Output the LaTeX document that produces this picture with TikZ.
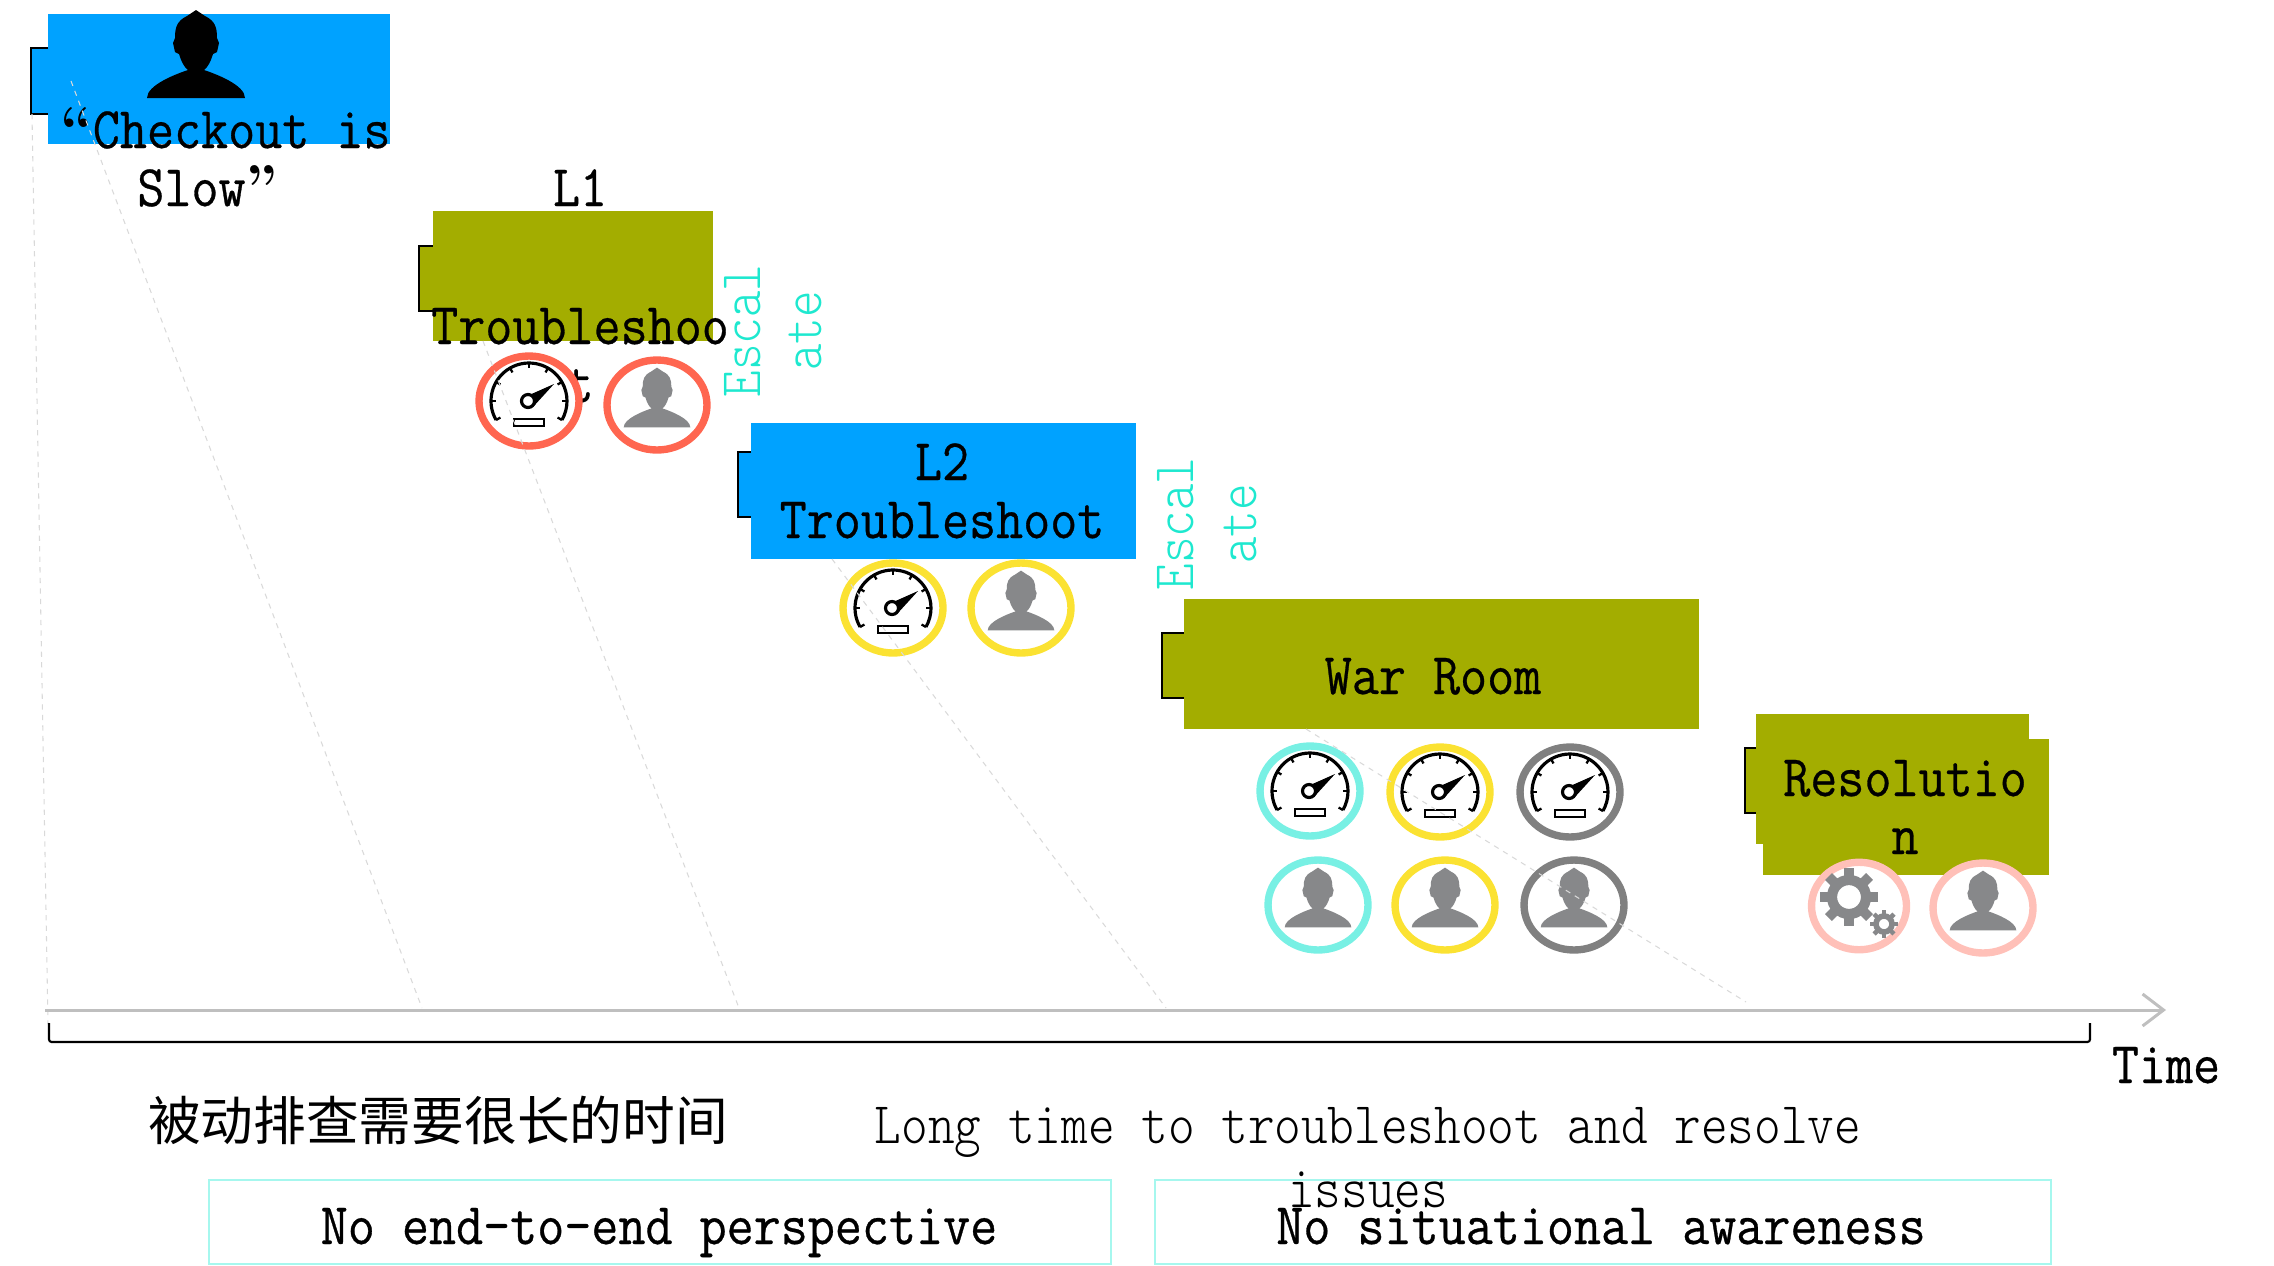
\documentclass[tikz,border=0pt]{standalone}
\usepackage{fontspec}
\newfontfamily\cjkfont{Noto Sans CJK SC}
\newfontfamily\labelface[FakeStretch=0.89,FakeBold=0.5]{Latin Modern Mono}
\newfontfamily\thinface[FakeStretch=0.86]{Latin Modern Mono Light}
\usetikzlibrary{arrows.meta,shapes.geometric}
\definecolor{boxblue}{HTML}{00A2FF}
\definecolor{boxolive}{HTML}{A3AD00}
\definecolor{esctext}{HTML}{1EE8CF}
\definecolor{ringred}{HTML}{FF6650}
\definecolor{ringyellow}{HTML}{FBE232}
\definecolor{ringgrey}{HTML}{808080}
\definecolor{ringaqua}{HTML}{78F0E4}
\definecolor{ringpink}{HTML}{FFC0B8}
\definecolor{iconink}{HTML}{87888A}
\definecolor{noteline}{HTML}{A6F7EE}
\newcommand{\labelfont}{\fontsize{33.6pt}{33pt}\selectfont\labelface}
\newcommand{\thinfont}{\fontsize{33.6pt}{33pt}\selectfont\thinface}
\begin{document}
\begin{tikzpicture}%
	[x=0.02cm,
	y=-0.02cm,
	box/.style={rectangle, inner sep=0pt, outer sep=0pt},
	tabbox/.style={draw=black, line width=1pt},
	lbl/.style={font=\labelfont, inner sep=0pt, align=center, anchor=base},
	esc/.style={font=\thinfont, color=esctext, inner sep=0pt, align=center, rotate=90},
	ring/.style={ellipse, draw, fill=white, line width=4.2pt, inner sep=0pt, minimum width=2cm, minimum height=1.8cm},
	note/.style={rectangle, draw=noteline, line width=1.2pt, inner sep=0pt},
	trail/.style={dashed, color=black!15, line width=.6pt, dash pattern=on 3pt off 3pt},
	smallperson/.style={fill=iconink, scale=.68},
	gauge/.pic={
		\draw[line width=1.8pt] (150:38) arc[start angle=150, end angle=390, radius=38];
		\foreach \a in {150,180,...,390} \draw[line width=1.3pt] (\a:38) -- (\a:33);
		\fill (-2,-5) -- (25,-17) -- (4,6) -- cycle;
		\draw[line width=1.8pt, fill=white] (-1,0) circle[radius=6.5];
		\draw[line width=1.2pt, fill=white] (-15,18) rectangle (15,25);
	},
	person/.pic={
		\fill[pic actions] (0,-55) -- (-9,-49) .. controls (-19,-44) and (-21,-38) .. (-21,-27)
			-- (-23,-22) -- (-21,-13) -- (-17,-11) .. controls (-15,-4) and (-12,2) .. (-8,5)
			.. controls (-20,9) and (-49,20) .. (-49,33) -- (49,33)
			.. controls (49,20) and (20,9) .. (8,5) .. controls (12,2) and (15,-4) .. (17,-11)
			-- (21,-13) -- (23,-22) -- (21,-27) .. controls (21,-38) and (19,-44) .. (9,-49) -- cycle;
	},
	bigcog/.pic={
		\draw[color=iconink, line width=5.8pt] (0,0) circle[radius=17];
		\foreach \a in {0,45,...,315} \draw[color=iconink, line width=5.5pt] (\a:20) -- (\a:29);
	},
	smallcog/.pic={
		\draw[color=iconink, line width=3.2pt] (0,0) circle[radius=8];
		\foreach \a in {0,45,...,315} \draw[color=iconink, line width=2.6pt] (\a:9) -- (\a:14);
	}]
%
%
%% Coordinate of the trails and of the time axis:
%%
\coordinate (trail0a) at (32,114);
\coordinate (trail0b) at (48,1024);
\coordinate (trail1a) at (71,81);
\coordinate (trail1b) at (422,1008);
\coordinate (trail2a) at (483,341);
\coordinate (trail2b) at (739,1008);
\coordinate (trail3a) at (832,559);
\coordinate (trail3b) at (1166,1008);
\coordinate (trail4a) at (1306,729);
\coordinate (trail4b) at (1746,1002);
\coordinate (axisa) at (45,1010);
\coordinate (axisb) at (2166,1010);
\coordinate (bracea) at (49,1023);
\coordinate (braceb) at (2090,1023);
%%
\useasboundingbox (0,0) rectangle (2274,1265);
%%
%%
%% Drawing the tabs and the boxes
%%
\draw[tabbox, fill=boxblue] (31,48) rectangle (60,114);
\draw[tabbox, fill=boxolive] (419,246) rectangle (445,311);
\draw[tabbox, fill=boxblue] (738,452) rectangle (760,517);
\draw[tabbox, fill=boxolive] (1162,633) rectangle (1190,698);
\draw[tabbox, fill=boxolive] (1745,748) rectangle (1770,813);
\node[box, fill=boxblue, minimum width=6.84cm, minimum height=2.6cm] (report) at (219,79) {};
\node[box, fill=boxolive, minimum width=5.6cm, minimum height=2.6cm] (first) at (573,276) {};
\node[box, fill=boxblue, minimum width=7.7cm, minimum height=2.72cm] (second) at (943.5,491) {};
\node[box, fill=boxolive, minimum width=10.3cm, minimum height=2.6cm] (warroom) at (1441.5,664) {};
\node[box, fill=boxolive, minimum width=5.46cm, minimum height=2.6cm] (fixa) at (1892.5,779) {};
\node[box, fill=boxolive, minimum width=5.72cm, minimum height=2.72cm] (fixb) at (1906,807) {};
%%
%%
%% Drawing the labels
%%
\node[lbl, align=left, anchor=base west] (slowtext) at (60,206) {{\rmfamily\bfseries “}Checkout is\\\hspace*{1.54cm}Slow{\rmfamily\bfseries ”}};
\node[lbl] (firsttext) at (580,402) {L1\\[1.6cm]Troubleshoo\\t};
\node[lbl] (secondtext) at (942,538) {L2\\Troubleshoot};
\node[lbl] (warroomtext) at (1433,694) {War Room};
\node[lbl] (fixtext) at (1905,854) {Resolutio\\n};
\node[esc] (escone) at (773,331) {Escal\\[2pt]ate};
\node[esc] (esctwo) at (1207,524) {Escal\\[3pt]ate};
\node[lbl] (timetext) at (2166,1083) {Time};
\node[inner sep=0pt, font=\fontsize{30pt}{34pt}\selectfont\cjkfont] (cntext) at (438,1120) {被动排查需要很长的时间};
\node[lbl, font=\thinfont] (longtext) at (1368,1207) {Long time to troubleshoot and resolve\\[3pt]issues};
%%
%%
%% Drawing the rings
%%
\node[ring, draw=ringred] (gaugea) at (529,401) {};
\node[ring, draw=ringred] (persona) at (657,405) {};
\node[ring, draw=ringyellow] (gaugeb) at (893,608) {};
\node[ring, draw=ringyellow] (personb) at (1021,608) {};
\node[ring, draw=ringaqua] (gaugec) at (1310,791) {};
\node[ring, draw=ringyellow] (gauged) at (1440,792) {};
\node[ring, draw=ringgrey] (gaugee) at (1570,792) {};
\node[ring, draw=ringaqua] (personc) at (1318,905) {};
\node[ring, draw=ringyellow] (persond) at (1445,905) {};
\node[ring, draw=ringgrey] (persone) at (1574,905) {};
\node[ring, draw=ringpink, minimum width=1.9cm, minimum height=1.75cm] (cogring) at (1859,906) {};
\node[ring, draw=ringpink] (personf) at (1983,908) {};
%%
%%
%% Drawing the icons
%%
\pic[fill=black] at (196,65) {person};
\pic at (gaugea) {gauge};
\pic[smallperson] at (persona) {person};
\pic at (gaugeb) {gauge};
\pic[smallperson] at (personb) {person};
\pic at (gaugec) {gauge};
\pic at (gauged) {gauge};
\pic at (gaugee) {gauge};
\pic[smallperson] at (personc) {person};
\pic[smallperson] at (persond) {person};
\pic[smallperson] at (persone) {person};
\pic at (1849,897) {bigcog};
\pic at (1884,924) {smallcog};
\pic[smallperson] at (personf) {person};
%%
%%
%% Drawing the trails, the time axis and the brace
%%
\draw[trail] (trail0a) -- (trail0b);
\draw[trail] (trail1a) -- (trail1b);
\draw[trail] (trail2a) -- (trail2b);
\draw[trail] (trail3a) -- (trail3b);
\draw[trail] (trail4a) -- (trail4b);
\draw[color=black!25, line width=1.7pt, -{Straight Barb[length=.42cm, width=.64cm]}] (axisa) -- (axisb);
\draw[line width=1.2pt, rounded corners=1.5pt] (bracea) -- ++(0,19) -| (braceb);
%%
%%
%% Drawing the notes
%%
\node[note, minimum width=18.05cm, minimum height=1.68cm] (noteone) at (660,1222) {};
\node[note, minimum width=17.94cm, minimum height=1.68cm] (notetwo) at (1603,1222) {};
\node[lbl] (noteonetext) at (659,1244) {No end-to-end perspective};
\node[lbl] (notetwotext) at (1601,1244) {No situational awareness};
%%
%%
\end{tikzpicture}
\end{document}
